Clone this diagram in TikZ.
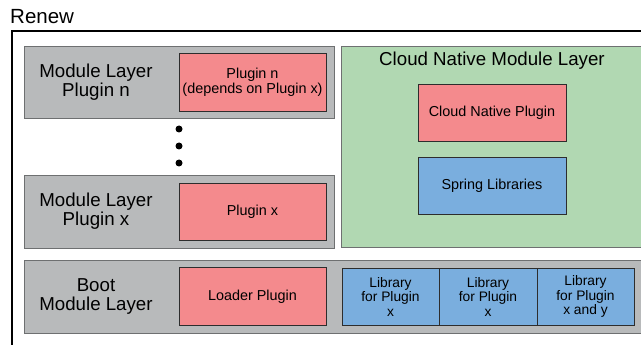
\documentclass[tikz,border=0pt]{standalone}
\usepackage{fontspec}
\setmainfont{Liberation Sans}
\definecolor{lgray}{RGB}{184,186,187}
\definecolor{grayline}{RGB}{110,112,113}
\definecolor{lred}{RGB}{244,138,141}
\definecolor{lgreen}{RGB}{177,216,178}
\definecolor{lblue}{RGB}{122,174,222}
\definecolor{darkline}{RGB}{45,45,45}
\newcommand{\bigf}{\fontsize{18.7}{18.7}\selectfont}
\newcommand{\smallf}{\fontsize{14.4}{15}\selectfont}
\newcommand{\libf}{\fontsize{13.8}{14.5}\selectfont}
\begin{document}
\begin{tikzpicture}[x=1pt,y=-1pt,
  box/.style={draw, inner sep=0pt, outer sep=0pt, line width=0.8pt},
  layer/.style={box, fill=lgray, draw=grayline},
  plug/.style={box, fill=lred, draw=darkline, align=center, font=\smallf},
  lib/.style={box, fill=lblue, draw=darkline, align=center, font=\libf},
  cloud/.style={box, fill=lgreen, draw=grayline},
  biglabel/.style={align=center, font=\bigf, inner sep=0pt},
  dotmark/.style={circle, fill=black, inner sep=0pt, minimum size=7pt}]
\useasboundingbox (0,0) rectangle (641,345);
\clip (0,0) rectangle (641,345);
% outer frame
\coordinate (fbl) at (12,360);
\coordinate (ftl) at (12,31);
\coordinate (ftr) at (660,31);
\draw[line width=1.5pt] (fbl) -- (ftl) -- (ftr);
\node[anchor=base west, font=\fontsize{20.5}{20.5}\selectfont, inner sep=0pt] (renew) at (10,24) {Renew};
% module layer plugin n
\node[layer, minimum width=310pt, minimum height=72pt] (mln) at (179,82) {};
\node[biglabel] (mlnl) at (96,82) {Module Layer\\Plugin n};
\node[plug, minimum width=147pt, minimum height=58pt] (pn) at (252.5,82) {Plugin n\\(depends on Plugin x)};
% dots
\node[dotmark] (d1) at (179,129) {};
\node[dotmark] (d2) at (179,146) {};
\node[dotmark] (d3) at (179,163) {};
% module layer plugin x
\node[layer, minimum width=310pt, minimum height=73pt] (mlx) at (179,211.5) {};
\node[biglabel] (mlxl) at (96,211.5) {Module Layer\\Plugin x};
\node[plug, minimum width=147pt, minimum height=57pt] (px) at (252.5,211.5) {Plugin x};
% boot module layer
\node[layer, minimum width=640pt, minimum height=73pt] (boot) at (344,296.5) {};
\node[biglabel] (bootl) at (96,296.5) {Boot\\Module Layer};
\node[plug, minimum width=147pt, minimum height=58pt] (loader) at (252.5,296.5) {Loader Plugin};
\node[lib, minimum width=97pt, minimum height=57pt] (lib1) at (390.5,296.5) {Library\\for Plugin\\x};
\node[lib, minimum width=98pt, minimum height=57pt] (lib2) at (488,296.5) {Library\\for Plugin\\x};
\node[lib, minimum width=97pt, minimum height=57pt] (lib3) at (585.5,296.5) {Library\\for Plugin\\x and y};
% cloud native module layer
\node[cloud, minimum width=330pt, minimum height=201pt] (cn) at (506,146.5) {};
\node[biglabel] (cnl) at (492,61) {Cloud Native Module Layer};
\node[plug, minimum width=148pt, minimum height=57pt] (cnp) at (492,112.5) {Cloud Native Plugin};
\node[lib, font=\smallf, minimum width=148pt, minimum height=57pt] (spring) at (492,185.5) {Spring Libraries};
\end{tikzpicture}
\end{document}
